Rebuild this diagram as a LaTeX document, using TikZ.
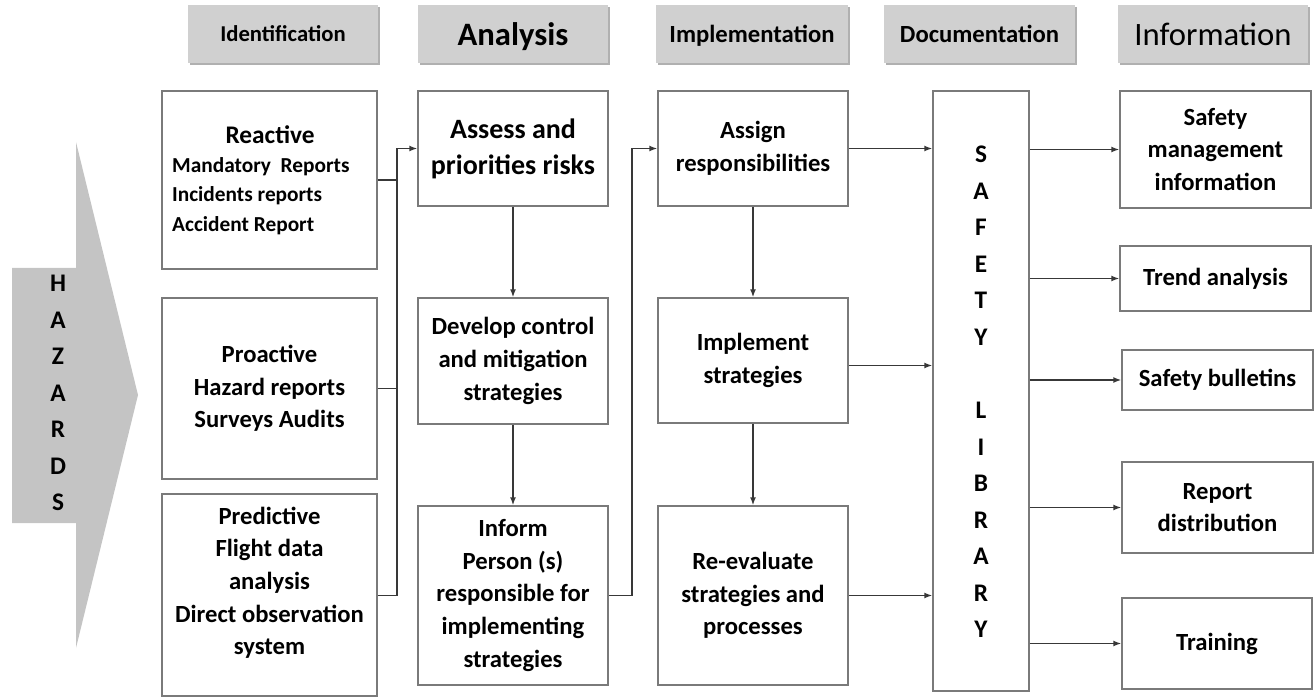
\documentclass[tikz,border=0pt]{standalone}
\usepackage{fontspec}
\setmainfont{Carlito}
\usetikzlibrary{arrows.meta}
\definecolor{boxgray}{HTML}{7A7A7A}
\definecolor{hdrgray}{HTML}{D0D0D0}
\definecolor{hdrshadow}{HTML}{B0B0B0}
\definecolor{conncol}{HTML}{383838}
\definecolor{arrowgray}{HTML}{C4C4C4}
\begin{document}
\begin{tikzpicture}[x=0.75pt,y=-0.75pt,
  wh/.style 2 args={minimum width=#1*0.75pt, minimum height=#2*0.75pt},
  box/.style={draw=boxgray, line width=1.1pt, inner sep=0pt, align=center,
    font=\bfseries\fontsize{18.5}{24.5}\selectfont},
  hdr/.style={fill=hdrgray, inner sep=0pt, wh={190}{58}, text depth=0pt},
  hshadow/.style={fill=hdrshadow},
  wire/.style={draw=conncol, line width=1.1pt},
  conn/.style={wire, -{Latex[length=6pt,width=4.5pt]}},
  letters/.style={align=center, inner sep=0pt, font=\bfseries\fontsize{19}{27.4}\selectfont}
]
\useasboundingbox (0,0) rectangle (1316,698);

% header shadows
\fill[hshadow] (190,7) rectangle (380,65);
\fill[hshadow] (420,7) rectangle (610,65);
\fill[hshadow] (658,7) rectangle (850,65);
\fill[hshadow] (886,7) rectangle (1077,65);
\fill[hshadow] (1120,7) rectangle (1310,65);
% headers
\node[hdr, text height=11pt, font=\bfseries\fontsize{17}{20}\selectfont] (h1) at (283,34.5) {Identification};
\node[hdr, text height=16pt, font=\bfseries\fontsize{24.5}{28}\selectfont] (h2) at (513,34.5) {Analysis};
\node[hdr, wh={192}{58}, text height=12pt, font=\bfseries\fontsize{18.5}{22}\selectfont] (h3) at (752,34.5) {Implementation};
\node[hdr, wh={191}{58}, text height=12pt, font=\bfseries\fontsize{18.5}{22}\selectfont] (h4) at (979.5,34.5) {Documentation};
\node[hdr, text height=16pt, font=\fontsize{24.5}{28}\selectfont] (h5) at (1213,34.5) {Information};

% hazards arrow
\fill[arrowgray] (12,268) -- (76,268) -- (76,142) -- (138,395) -- (76,648) -- (76,523) -- (12,523) -- cycle;
\node[letters] (hazards) at (58,393) {H\\A\\Z\\A\\R\\D\\S};

% identification column
\node[box, wh={215}{178}, align=left, font=\bfseries\fontsize{16}{22}\selectfont] (reactive) at (269.5,180)
  {\hspace*{40pt}{\fontsize{19}{22}\selectfont Reactive}\\Mandatory~ Reports\rule{13pt}{0pt}\\Incidents reports\\Accident Report};
\node[box, wh={215}{181}] (proactive) at (269.5,388.5) {Proactive\\Hazard reports\\Surveys Audits};
\node[box, wh={215}{202}] (predictive) at (269.5,595) {Predictive\\Flight data\\analysis\\Direct observation\\system\\[-3pt]\mbox{}};

% analysis column
\node[box, wh={190}{115}, font=\bfseries\fontsize{21}{27}\selectfont] (assess) at (513,148.5) {Assess and\\priorities risks};
\node[box, wh={190}{126}] (develop) at (513,361) {Develop control\\and mitigation\\strategies};
\node[box, wh={190}{179}] (inform) at (513,595.5) {Inform\\Person (s)\\responsible for\\implementing\\strategies};

% implementation column
\node[box, wh={190}{115}] (assign) at (753,148.5) {Assign\\responsibilities};
\node[box, wh={190}{125}] (implement) at (753,360.5) {Implement\\strategies};
\node[box, wh={190}{179}] (reeval) at (753,595.5) {Re-evaluate\\strategies and\\processes};

% documentation
\node[box, wh={96}{600}] (library) at (981,391) {};
\node[letters] (libtext) at (981,392) {S\\A\\F\\E\\T\\Y\\[27.4pt]L\\I\\B\\R\\A\\R\\Y};

% information column
\node[box, wh={191}{117}] (sminfo) at (1215.5,149.5) {Safety\\management\\information};
\node[box, wh={191}{65}] (trend) at (1215.5,278.5) {Trend analysis};
\node[box, wh={191}{60}] (bulletins) at (1217.5,380) {Safety bulletins};
\node[box, wh={191}{91}] (report) at (1217.5,507.5) {Report\\distribution};
\node[box, wh={190}{91}] (training) at (1217,643.5) {Training};

% identification -> analysis bus
\coordinate (bus1) at (397,148.5);
\coordinate (bus2) at (397,595.5);
\draw[wire] (reactive.east) -- (reactive.east -| bus1);
\draw[wire] (proactive.east) -- (proactive.east -| bus1);
\draw[wire] (predictive.east |- bus2) -- (bus2);
\draw[wire] (bus2) -- (bus1);
\draw[conn] (bus1) -- (assess.west);

% analysis column
\draw[conn] (assess.south) -- (develop.north);
\draw[conn] (develop.south) -- (inform.north);

% inform -> assign
\coordinate (j) at (632,148.5);
\draw[conn] (inform.east) -- (inform.east -| j) -- (j) -- (assign.west);

% implementation column
\draw[conn] (assign.south) -- (implement.north);
\draw[conn] (implement.south) -- (reeval.north);

% to library
\draw[conn] (assign.east) -- (assign.east -| library.west);
\draw[conn] ([yshift=-3.75pt]implement.east) -- ([yshift=-3.75pt]implement.east -| library.west);
\draw[conn] (reeval.east) -- (reeval.east -| library.west);

% library -> information
\draw[conn] (sminfo.west -| library.east) -- (sminfo.west);
\draw[conn] (trend.west -| library.east) -- (trend.west);
\draw[conn] (bulletins.west -| library.east) -- (bulletins.west);
\draw[conn] (report.west -| library.east) -- (report.west);
\draw[conn] (training.west -| library.east) -- (training.west);
\end{tikzpicture}
\end{document}
